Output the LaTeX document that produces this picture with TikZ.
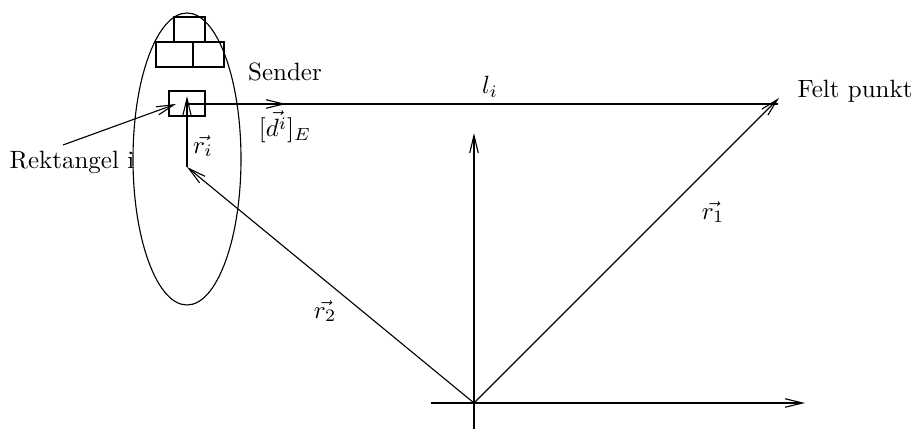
\documentclass[tikz,border=0pt]{standalone}
\usetikzlibrary{arrows.meta}
\begin{document}
\begin{tikzpicture}[x=0.4pt,y=-0.4pt,
  ln/.style={line width=0.45pt},
  arr/.style={ln,-{Straight Barb[length=7pt,width=3.4pt,line width=0.45pt]}},
  box/.style={line width=0.8pt},
  lbl/.style={inner sep=0pt}]
\useasboundingbox (0,0) rectangle (914,430);
% ellipse (sender)
\draw[ln] (187,159) ellipse [x radius=54, y radius=146];
% rectangles
\draw[box] (174,17) rectangle (205,42);
\draw[box] (156,42) rectangle (193,67);
\draw[box] (193,42) rectangle (224,67);
\node[draw,box,minimum width=14.4pt,minimum height=10pt,inner sep=0pt] (rect) at (187,103.5) {};
% coordinates
\coordinate (O) at (474,403);
\coordinate (F) at (779,98);
\coordinate (Ri) at (187,167);
\coordinate (Rtip) at (187,96);
\coordinate (D0) at (187,104);
\coordinate (D1) at (286,104);
\coordinate (L1) at (778,104);
\coordinate (Xa) at (431,403);
\coordinate (Xb) at (805,403);
\coordinate (Ya) at (474,429);
\coordinate (Yb) at (474,133);
\coordinate (Ra) at (63,145);
\coordinate (Rb) at (176,104);
% text
\node[lbl] (sender) at (285,72) {Sender};
\node[lbl] (li) at (490,87) {$l_i$};
\node[lbl] (dlab) at (285,127) {$[\vec{d^i}]_E$};
\node[lbl] (rilab) at (203,146) {$\vec{r_i}$};
\node[lbl] (r2lab) at (325,311) {$\vec{r_2}$};
\node[lbl] (r1lab) at (713,212) {$\vec{r_1}$};
\node[lbl,anchor=west] (felt) at (797,91) {Felt punkt};
\node[lbl] (rekt) at (72,162) {Rektangel i};
% lines
\draw[ln] (D0) -- (L1);
\draw[arr] (D0) -- (D1);
\draw[arr] (Ri) -- (Rtip);
\draw[arr] (O) -- (Ri);
\draw[arr] (O) -- (F);
\draw[arr] (Xa) -- (Xb);
\draw[arr] (Ya) -- (Yb);
\draw[arr] (Ra) -- (Rb);
\end{tikzpicture}
\end{document}
